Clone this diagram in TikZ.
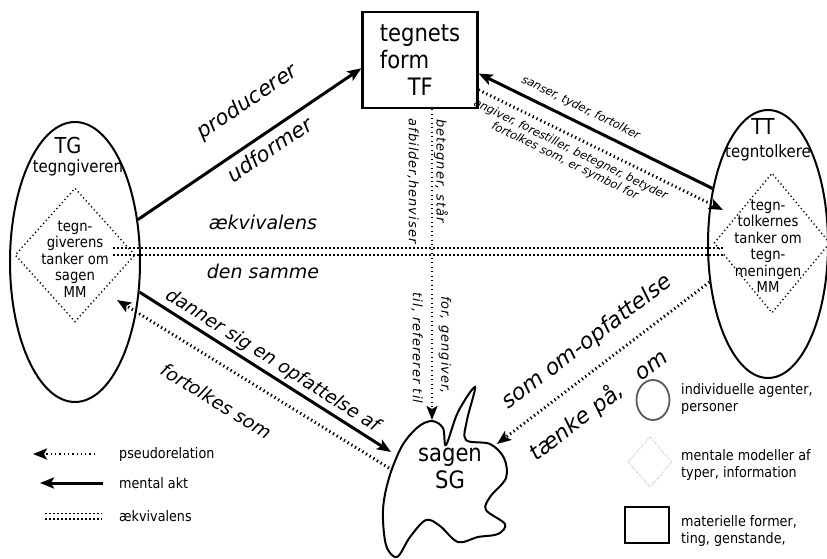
\documentclass[tikz,border=0pt]{standalone}
\usepackage{fontspec}
\setmainfont{DejaVu Sans}
\newfontfamily\narrowfont[FakeStretch=0.88]{DejaVu Sans}
\usetikzlibrary{arrows.meta,shapes.geometric}

\begin{document}
\begin{tikzpicture}[x=1pt,y=-1pt,
    agent/.style={draw,ellipse,line width=2pt,inner sep=0pt},
    mental model/.style={draw,diamond,line width=1.4pt,dash pattern=on 1.2pt off 2.8pt,inner sep=0pt},
    thing/.style={draw,rectangle,line width=2.2pt},
    arrow head/.style={-{Stealth[length=14pt,width=11pt,inset=3pt]}},
    mental act/.style={arrow head,line width=3pt},
    pseudo relation/.style={arrow head,line width=3pt,dash pattern=on 1.3pt off 3pt},
    equivalence/.style={line width=2pt,double distance=5pt,dash pattern=on 1.5pt off 2.5pt},
    big label/.style={font=\fontsize{#1}{#1}\selectfont\itshape,inner sep=2pt},
    small label/.style={font=\fontsize{11.5}{13}\selectfont\itshape,inner sep=1pt},
    side label/.style={font=\fontsize{13}{15}\selectfont\itshape\addfontfeature{LetterSpace=8},rotate=-90,inner sep=0pt},
    name label/.style={font=\narrowfont\fontsize{#1}{#1}\selectfont,inner sep=1pt},
    model text/.style={font=\narrowfont\fontsize{15}{16.5}\selectfont,align=center,inner sep=0pt},
    legend text/.style={font=\narrowfont\fontsize{14.5}{16.5}\selectfont,align=left,anchor=west,inner sep=0pt}]

    \path[use as bounding box] (0,0) rectangle (827,559);

    \coordinate (SG top) at (432,420);
    \coordinate (SG left) at (391,452);
    \coordinate (SG low) at (389,468);
    \coordinate (SG right) at (497,444);
    \coordinate (TG inner) at (117,300);
    \coordinate (TT inner) at (723,210);
    \coordinate (eq left) at (113,251.5);
    \coordinate (eq right) at (725,251.5);

    \node[agent,minimum width=130pt,minimum height=280pt] (TG) at (75,262) {};
    \node[agent,minimum width=120pt,minimum height=268pt] (TT) at (768,244) {};
    \node[mental model,minimum width=120pt,minimum height=134pt] (TG model) at (75,255) {};
    \node[mental model,minimum width=116pt,minimum height=140pt] (TT model) at (772,243) {};

    \node[name label=22] (TG name) at (68,145) {TG};
    \node[name label=17] (TG full) at (78,168) {tegngiveren};
    \node[name label=22] (TT name) at (763,126) {TT};
    \node[name label=17] (TT full) at (768,153) {tegntolkere};
    \node[model text] (TG thoughts) at (75,259) {tegn-\\giverens\\tanker om\\sagen\\MM};
    \node[model text] (TT thoughts) at (768,246) {tegn-\\tolkernes\\tanker om\\tegn-\\meningen\\MM};

    \node[thing,minimum width=115pt,minimum height=96pt,inner sep=0pt,
          font=\narrowfont\fontsize{24}{27}\selectfont,align=left] (TF) at (420,60) {tegnets\\form\\\hspace*{28pt}TF};

    \draw[line width=2pt] plot[smooth cycle,tension=0.55] coordinates {
        (432,421) (443,428) (446,445) (458,412) (475,387) (467,420) (466,440)
        (490,444) (504,458) (506,478) (490,497) (486,510) (505,524) (498,534)
        (478,537) (458,542) (440,526) (426,520) (410,537) (397,557) (386,545)
        (383,510) (389,478) (402,446) (418,427)};
    \node[font=\narrowfont\fontsize{24}{27}\selectfont,align=center,inner sep=1pt] (SG) at (450,468) {sagen\\SG};

    \draw[equivalence] (eq left) -- (eq right)
        node[big label=19,pos=0.245,above=19pt] {ækvivalens}
        node[big label=19,pos=0.245,below=10pt] {den samme};

    \draw[mental act] (TG.34) -- (TF.188)
        node[big label=21,sloped,pos=0.58,above=22pt] {producerer}
        node[big label=21,sloped,pos=0.55,below=4pt] {udformer};
    \draw[mental act] (TT.135) -- (TF.-13)
        node[small label,sloped,pos=0.59,above=6pt] {sanser, tyder, fortolker};
    \draw[pseudo relation] (TF.-27) -- (TT inner)
        node[small label,sloped,pos=0.4,below=5pt,align=center] {angiver, forestiller, betegner, betyder\\fortolkes som, er symbol for};

    \draw[pseudo relation,line width=2pt,dash pattern=on 1.2pt off 3.3pt] (SG top |- TF.south) -- (SG top);
    \node[side label] (afbilder) at (413,181) {afbilder,henviser};
    \node[side label] (betegner) at (441,171) {betegner, står};
    \node[side label] (refererer) at (417,348) {til, refererer til};
    \node[side label] (gengiver) at (445,345) {for, gengiver,};

    \draw[mental act] (TG.-25) -- (SG left)
        node[big label=18.5,sloped,pos=0.5,above=1pt] {danner sig en opfattelse af};
    \draw[pseudo relation] (SG low) -- (TG inner)
        node[big label=18.5,sloped,pos=0.57,below=23pt] {fortolkes som};
    \draw[pseudo relation] (TT.213) -- (SG right)
        node[big label=22,sloped,pos=0.5,above=12pt] {som om-opfattelse}
        node[big label=22,sloped,pos=0.61,below=15pt] {tænke på,\hspace{0.6em} om};

    \coordinate (lg pseudo a) at (95,454);
    \coordinate (lg pseudo b) at (33,454);
    \coordinate (lg act a) at (103,483);
    \coordinate (lg act b) at (40,483);
    \coordinate (lg equiv a) at (45,516);
    \coordinate (lg equiv b) at (102,516);
    \draw[pseudo relation,line width=2.5pt] (lg pseudo a) -- (lg pseudo b);
    \draw[mental act] (lg act a) -- (lg act b);
    \draw[equivalence,line width=1.5pt,double distance=4pt] (lg equiv a) -- (lg equiv b);
    \node[legend text] (lg pseudo) at (119,454) {pseudorelation};
    \node[legend text] (lg act) at (119,483) {mental akt};
    \node[legend text] (lg equiv) at (119,516) {ækvivalens};

    \node[agent,draw=gray!70!black,line width=1.8pt,minimum width=33pt,minimum height=40pt] (lg agent) at (653,400) {};
    \node[draw=gray!60,diamond,line width=0.6pt,dash pattern=on 1pt off 1pt,inner sep=0pt,minimum width=44pt,minimum height=50pt] (lg model) at (650,462) {};
    \node[thing,minimum width=44pt,minimum height=36pt,inner sep=0pt] (lg thing) at (647,525) {};
    \node[legend text] (lg agent text) at (681,399) {individuelle agenter,\\personer};
    \node[legend text] (lg model text) at (681,465) {mentale modeller af\\typer, information};
    \node[legend text] (lg thing text) at (681,531) {materielle former,\\ting, genstande,};
\end{tikzpicture}
\end{document}
